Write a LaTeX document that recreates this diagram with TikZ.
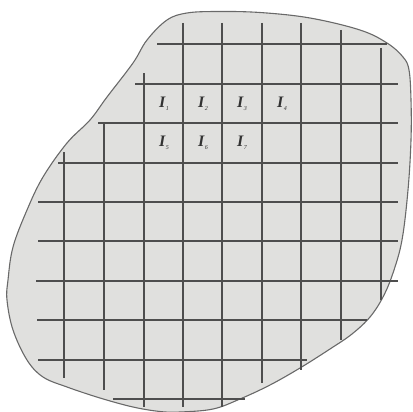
\documentclass[tikz,border=0pt]{standalone}
\usepackage{fontspec}
\setmainfont{Liberation Serif}
\newcommand{\cellI}[1]{\textbf{\textit{I}}\raisebox{-3.5pt}{\fontsize{6}{6}\selectfont\itshape #1}}
\begin{document}
\begin{tikzpicture}[x=1pt,y=-1pt,
  blob/.style={fill={rgb,255:red,224;green,224;blue,222},draw={rgb,255:red,105;green,105;blue,105},line width=1.1pt},
  gridline/.style={draw={rgb,255:red,78;green,78;blue,78},line width=1.7pt},
  lbl/.style={font=\fontsize{16}{16}\selectfont,text={rgb,255:red,50;green,50;blue,50},inner sep=0pt}]
\useasboundingbox (0,0) rectangle (412,412);
\path[blob] plot[smooth cycle,tension=0.6] coordinates {
 (147,40) (167,20) (187,13) (217,11.5) (260,12.5) (310,18) (360,30) (387,43)
 (403,57) (409,70) (411,100) (411,140) (408,190) (402,240) (393,273) (383,297)
 (370,317) (352,334) (330,349) (300,368) (270,385) (240,399) (213,409) (180,412)
 (160,411.5) (133,407) (100,398) (67,387) (43,377) (27,360) (13,330) (7,300)
 (8,280) (13,247) (27,210) (43,177) (67,143) (90,120) (107,97) (133,63)};
% vertical lines
\draw[gridline] (64,152) -- (64,378);
\draw[gridline] (104,122) -- (104,390);
\draw[gridline] (144,73) -- (144,407);
\draw[gridline] (183,23) -- (183,407);
\draw[gridline] (222,23) -- (222,407);
\draw[gridline] (262,23) -- (262,383);
\draw[gridline] (301,23) -- (301,370);
\draw[gridline] (341,30) -- (341,340);
\draw[gridline] (381,48) -- (381,300);
% horizontal lines
\draw[gridline] (157,44) -- (387,44);
\draw[gridline] (135,84) -- (398,84);
\draw[gridline] (98,123) -- (398,123);
\draw[gridline] (58,163) -- (398,163);
\draw[gridline] (38,202) -- (398,202);
\draw[gridline] (38,241) -- (398,241);
\draw[gridline] (36,281) -- (398,281);
\draw[gridline] (37,320) -- (367,320);
\draw[gridline] (38,360) -- (307,360);
\draw[gridline] (113,399) -- (245,399);
% labels
\node[lbl] (i1) at (164,104) {\cellI{1}};
\node[lbl] (i2) at (203,104) {\cellI{2}};
\node[lbl] (i3) at (242,104) {\cellI{3}};
\node[lbl] (i4) at (282,104) {\cellI{4}};
\node[lbl] (i5) at (164,143) {\cellI{5}};
\node[lbl] (i6) at (203,143) {\cellI{6}};
\node[lbl] (i7) at (242,143) {\cellI{7}};
\end{tikzpicture}
\end{document}
